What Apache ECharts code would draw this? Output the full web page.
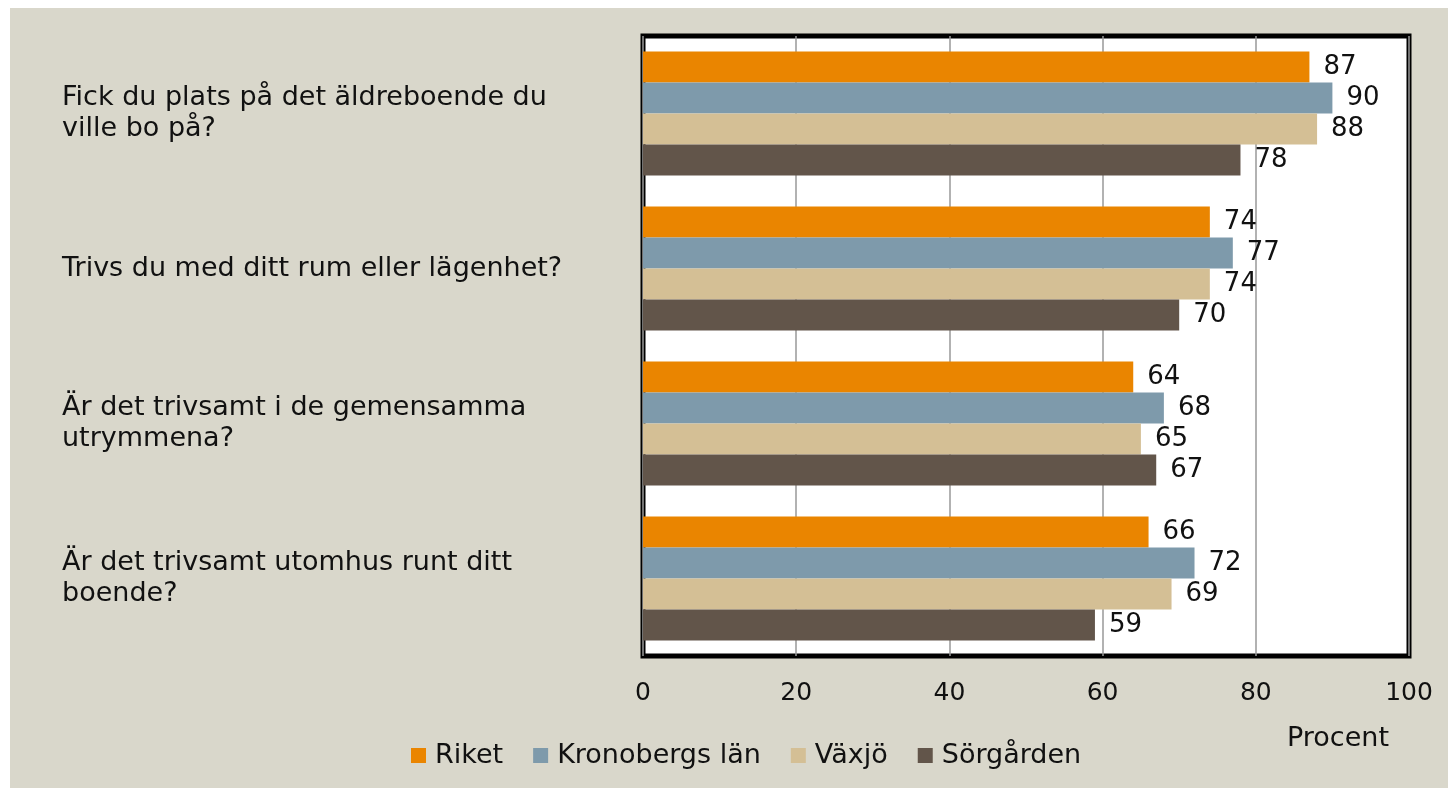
<!DOCTYPE html>
<html>
<head>
<meta charset="utf-8">
<script src="https://cdn.jsdelivr.net/npm/echarts@6/dist/echarts.min.js"></script>
<style>
  html, body { margin: 0; padding: 0; background: #ffffff; }
  #chart { width: 1448px; height: 788px; }
</style>
</head>
<body>
<div id="chart"></div>
<script>
// frågor (kategorier)
const questions = [
  'Fick du plats på det äldreboende du\nville bo på?',
  'Trivs du med ditt rum eller lägenhet?',
  'Är det trivsamt i de gemensamma\nutrymmena?',
  'Är det trivsamt utomhus runt ditt\nboende?'
];
const seriesNames = ['Riket', 'Kronobergs län', 'Växjö', 'Sörgården'];
const riket = [87, 74, 64, 66];
const kronoberg = [90, 77, 68, 72];
const vaxjo = [88, 74, 65, 69];
const sorgarden = [78, 70, 67, 59];
const xTicks = [0, 20, 40, 60, 80, 100];

const colors = ['#ea8500', '#7e9aab', '#d4bf95', '#62554a'];
const font = 'DejaVu Sans';

const chart = echarts.init(document.getElementById('chart'));

const makeSeries = (name, data, i) => ({
  name: name,
  type: 'bar',
  data: data,
  barGap: '0%',
  barCategoryGap: '20%',
  itemStyle: { color: colors[i] },
  label: {
    show: true,
    position: 'right',
    distance: 14,
    color: '#111',
    fontFamily: font,
    fontSize: 26
  }
});

chart.setOption({
  animation: false,
  backgroundColor: '#ffffff',
  textStyle: { fontFamily: font },
  graphic: [
    {
      type: 'rect',
      z: -10,
      silent: true,
      shape: { x: 10, y: 8, width: 1438, height: 780 },
      style: { fill: '#d9d7cb' }
    },
    {
      type: 'text',
      left: 1287,
      top: 725,
      style: { text: 'Procent', fontFamily: font, fontSize: 27, fill: '#111' }
    }
  ],
  legend: {
    left: 406,
    top: 737,
    itemWidth: 15,
    itemHeight: 15,
    itemGap: 30,
    icon: 'rect',
    textStyle: { fontFamily: font, fontSize: 27, color: '#111', padding: [0, 0, 0, 4] },
    data: seriesNames
  },
  grid: {
    left: 643,
    right: 39,
    top: 36,
    bottom: 132,
    show: true,
    backgroundColor: '#ffffff',
    borderColor: '#000000',
    borderWidth: 5,
    z: 0
  },
  xAxis: {
    type: 'value',
    min: xTicks[0],
    max: xTicks[xTicks.length - 1],
    interval: 20,
    axisLine: { show: false },
    axisTick: { show: false },
    axisLabel: { margin: 25, fontFamily: font, fontSize: 25, color: '#111' },
    splitLine: { lineStyle: { color: '#999999', width: 1.5 } }
  },
  yAxis: {
    type: 'category',
    inverse: true,
    data: questions,
    axisLine: { show: false },
    axisTick: { show: false },
    splitLine: { show: false },
    axisLabel: {
      align: 'left',
      margin: 581,
      fontFamily: font,
      fontSize: 27,
      lineHeight: 31,
      color: '#111'
    }
  },
  series: [
    makeSeries(seriesNames[0], riket, 0),
    makeSeries(seriesNames[1], kronoberg, 1),
    makeSeries(seriesNames[2], vaxjo, 2),
    makeSeries(seriesNames[3], sorgarden, 3)
  ]
});
</script>
</body>
</html>
